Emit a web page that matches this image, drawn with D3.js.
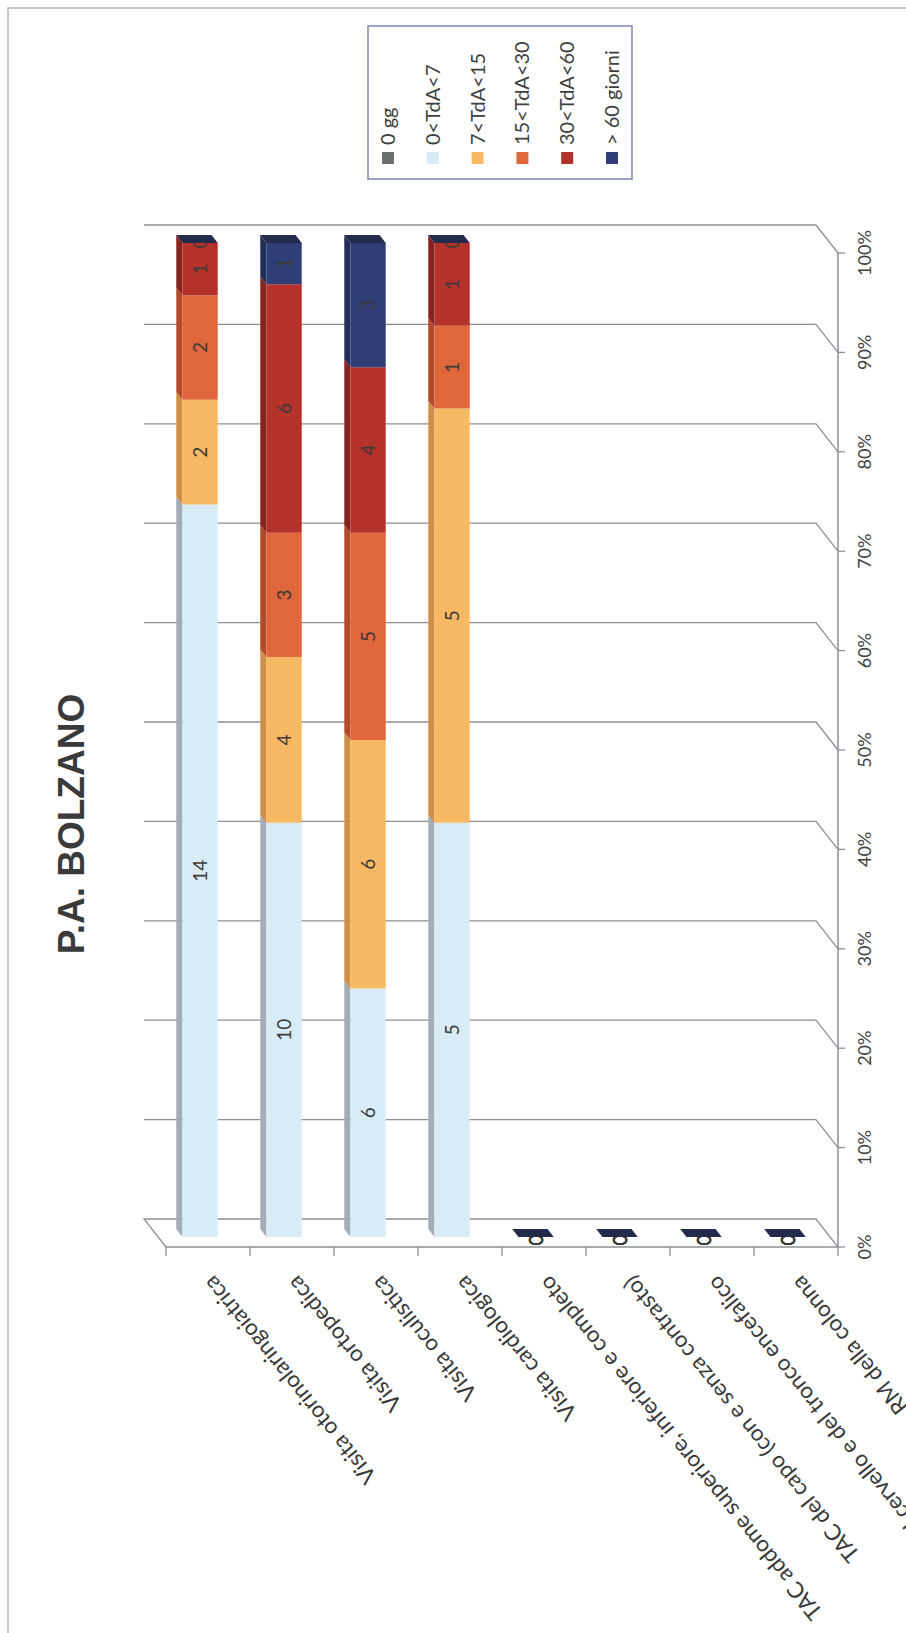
<!DOCTYPE html>
<html>
<head>
<meta charset="utf-8">
<script src="https://cdn.jsdelivr.net/npm/d3@7"></script>
<style>
  html, body { margin: 0; padding: 0; background: #ffffff; }
  svg { display: block; }
</style>
</head>
<body>
<svg id="chart" width="906" height="1633"></svg>
<script>
// ---------------- data ----------------
const title = "P.A. BOLZANO";
const categories = [
  "Visita otorinolaringoiatrica",
  "Visita ortopedica",
  "Visita oculistica",
  "Visita cardiologica",
  "TAC addome superiore, inferiore e completo",
  "TAC del capo (con e senza contrasto)",
  "RM del cervello e del tronco encefalico",
  "RM della colonna"
];
const seriesNames = ["0 gg", "0<TdA<7", "7<TdA<15", "15<TdA<30", "30<TdA<60", "> 60 giorni"];
const values0gg   = [0, 0, 0, 0, 0, 0, 0, 0];
const values0to7  = [14, 10, 6, 5, 0, 0, 0, 0];
const values7to15 = [2, 4, 6, 5, 0, 0, 0, 0];
const values15to30 = [2, 3, 5, 1, 0, 0, 0, 0];
const values30to60 = [1, 6, 4, 1, 0, 0, 0, 0];
const valuesOver60 = [0, 1, 3, 0, 0, 0, 0, 0];
const tickValues = [0, 0.1, 0.2, 0.3, 0.4, 0.5, 0.6, 0.7, 0.8, 0.9, 1.0];
const tickLabels = ["0%", "10%", "20%", "30%", "40%", "50%", "60%", "70%", "80%", "90%", "100%"];

const seriesValues = [values0gg, values0to7, values7to15, values15to30, values30to60, valuesOver60];
// colours: front face, side face, top face
const seriesColors = [
  {front: "#6b706d", side: "#50544f", top: "#5c605d"},
  {front: "#d8ecf8", side: "#a4acb8", top: "#bfd0de"},
  {front: "#f8b965", side: "#cf9046", top: "#e4a352"},
  {front: "#e0673c", side: "#b34b2b", top: "#c95732"},
  {front: "#b5322a", side: "#86231e", top: "#9c2924"},
  {front: "#2f3e77", side: "#232d59", top: "#232a4c"}
];

// ---------------- layout ----------------
const svg = d3.select("#chart");
const DX = -22, DY = -28;          // 3D depth offset (front -> back)
const zF = 0.36, zB = 0.64;        // bar depth extent
const x = d3.scaleBand().domain(categories).range([166, 838]).padding(0);
const y = d3.scaleLinear().domain([0, 1]).range([1247, 253]);
const barW = x.bandwidth() * 0.42;
const P = (px, v, z) => [px + z * DX, y(v) + z * DY];
const poly = pts => pts.map(p => p.join(",")).join(" ");
const FONT = "Lato, 'Open Sans', sans-serif";
const AXIS = "#8e8e98";

// outer border
svg.append("rect").attr("x", 8).attr("y", 8).attr("width", 1000).attr("height", 1700)
  .attr("fill", "none").attr("stroke", "#b4b4bc").attr("stroke-width", 1.5);

// title
svg.append("text").attr("transform", "translate(84," + 824 + ") rotate(-90)")
  .attr("text-anchor", "middle").attr("font-family", "'Liberation Sans', Arial, sans-serif")
  .attr("font-weight", "bold").attr("font-size", 37).attr("fill", "#3a3a3a").text(title);

// legend
const lg = svg.append("g");
lg.append("rect").attr("x", 368).attr("y", 26).attr("width", 264).attr("height", 153)
  .attr("fill", "#fff").attr("stroke", "#7d89b8").attr("stroke-width", 1.5);
const legendX = d3.scalePoint().domain(seriesNames).range([388, 612]);
seriesNames.forEach((n, i) => {
  const cx = legendX(n);
  lg.append("rect").attr("x", cx - 6).attr("y", 152).attr("width", 12).attr("height", 12)
    .attr("fill", seriesColors[i].front);
  lg.append("text").attr("transform", "translate(" + cx + ",145) rotate(-90)")
    .attr("dy", "0.35em").attr("font-family", FONT).attr("font-size", 20)
    .attr("fill", "#404040").text(n);
});

// floor
const xL = x.range()[0], xR = x.range()[1];
svg.append("polygon")
  .attr("points", poly([P(xL, 0, 0), P(xR, 0, 0), P(xR, 0, 1), P(xL, 0, 1)]))
  .attr("fill", "none").attr("stroke", AXIS).attr("stroke-width", 1.3);

// gridlines on back wall with slant to value axis
tickValues.slice(1).forEach(v => {
  svg.append("polyline")
    .attr("points", poly([P(xL, v, 1), P(xR, v, 1), P(xR, v, 0)]))
    .attr("fill", "none").attr("stroke", AXIS).attr("stroke-width", 1.3);
});

// value axis
svg.append("line").attr("x1", xR).attr("x2", xR).attr("y1", y(0)).attr("y2", y(1))
  .attr("stroke", AXIS).attr("stroke-width", 1.5);
tickValues.forEach((v, i) => {
  svg.append("line").attr("x1", xR).attr("x2", xR + 7).attr("y1", y(v)).attr("y2", y(v))
    .attr("stroke", AXIS).attr("stroke-width", 1.3);
  svg.append("text").attr("transform", "translate(871," + y(v) + ") rotate(-90)")
    .attr("text-anchor", "middle").attr("font-family", FONT).attr("font-size", 18)
    .attr("fill", "#404040").text(tickLabels[i]);
});

// category ticks
d3.range(categories.length + 1).forEach(i => {
  const tx = xL + i * x.step();
  svg.append("line").attr("x1", tx).attr("x2", tx).attr("y1", y(0)).attr("y2", y(0) + 9)
    .attr("stroke", AXIS).attr("stroke-width", 1.3);
});

// category labels
categories.forEach(c => {
  const cx = x(c) + x.bandwidth() / 2;
  svg.append("text").attr("transform", "translate(" + (cx + 6) + ",1274) rotate(-129)")
    .attr("text-anchor", "end").attr("font-family", FONT).attr("font-size", 22.5)
    .attr("fill", "#3a3a3a").text(c);
});

// stacked 100% bars
const stacks = categories.map((c, ci) => {
  const vals = seriesValues.map(s => s[ci]);
  const total = d3.sum(vals);
  let acc = 0;
  return vals.map((v, si) => {
    const v0 = total ? acc / total : 0;
    acc += v;
    const v1 = total ? acc / total : 0;
    return {c, ci, si, v, v0, v1, total};
  });
});

const bars = svg.append("g");
const labels = svg.append("g");
const caps = svg.append("g");
stacks.forEach(stack => {
  const c = stack[0].c;
  const cx = x(c) + x.bandwidth() / 2;
  const x0 = cx - barW / 2, x1 = cx + barW / 2;
  stack.forEach(d => {
    const col = seriesColors[d.si];
    if (d.v1 > d.v0) {
      bars.append("polygon")
        .attr("points", poly([P(x0, d.v0, zF), P(x0, d.v1, zF), P(x0, d.v1, zB), P(x0, d.v0, zB)]))
        .attr("fill", col.side);
      bars.append("polygon")
        .attr("points", poly([P(x0, d.v0, zF), P(x1, d.v0, zF), P(x1, d.v1, zF), P(x0, d.v1, zF)]))
        .attr("fill", col.front);
    }
    const atTop = Math.abs(d.v0 - (d.total ? 1 : 0)) < 1e-9 && d.v === 0;
    if (d.v > 0 || atTop) {
      const p = P(cx, (d.v0 + d.v1) / 2, zF);
      labels.append("text").attr("transform", "translate(" + p[0] + "," + (p[1] + (d.total ? 0 : 3)) + ") rotate(-90)")
        .attr("text-anchor", "middle").attr("dy", "0.35em")
        .attr("font-family", FONT).attr("font-size", 19).attr("fill", "#3a3a3a")
        .text(d.v);
    }
  });
  const top = stack[stack.length - 1];
  caps.append("polygon")
    .attr("points", poly([P(x0, top.v1, zF), P(x1, top.v1, zF), P(x1, top.v1, zB), P(x0, top.v1, zB)]))
    .attr("fill", seriesColors[top.si].top);
});
</script>
</body>
</html>
